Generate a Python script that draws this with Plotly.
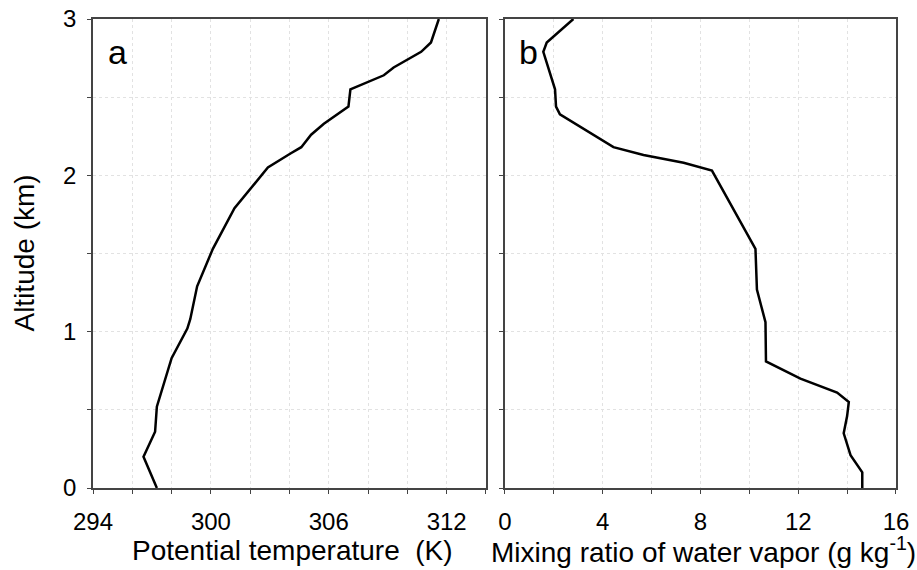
import plotly.graph_objects as go

# Panel a: potential temperature profile
theta_K = [311.6, 311.2, 310.7, 309.3, 308.8, 307.1, 307.0, 305.75, 305.1, 304.6, 304.05,
           302.9, 301.2, 300.1, 299.3, 298.95, 298.8, 298.0, 297.25, 297.16, 296.57, 297.25]
theta_alt = [3.0, 2.85, 2.79, 2.69, 2.64, 2.55, 2.44, 2.33, 2.26, 2.18, 2.14,
             2.05, 1.79, 1.53, 1.29, 1.08, 1.02, 0.83, 0.52, 0.36, 0.20, 0.0]

# Panel b: water vapor mixing ratio profile
q_gkg = [2.8, 1.71, 1.57, 2.05, 2.09, 2.25, 4.44, 5.67, 7.31, 8.47, 10.25,
         10.31, 10.66, 10.68, 12.09, 13.59, 14.07, 14.0, 13.86, 14.14, 14.62, 14.62]
q_alt = [3.0, 2.85, 2.79, 2.55, 2.44, 2.39, 2.18, 2.13, 2.08, 2.03, 1.53,
         1.27, 1.06, 0.81, 0.70, 0.61, 0.55, 0.46, 0.35, 0.21, 0.10, 0.0]

xa_ticks = [294, 300, 306, 312]
xb_ticks = [0, 4, 8, 12, 16]
y_ticks = [0, 1, 2, 3]

FONT = "Liberation Sans, Arial, sans-serif"
TITLE_FONT = dict(size=28, family=FONT, color="black")

fig = go.Figure()
fig.add_trace(go.Scatter(x=theta_K, y=theta_alt, mode="lines",
                         line=dict(color="black", width=2.5), xaxis="x", yaxis="y",
                         showlegend=False))
fig.add_trace(go.Scatter(x=q_gkg, y=q_alt, mode="lines",
                         line=dict(color="black", width=2.5), xaxis="x2", yaxis="y2",
                         showlegend=False))

common_axis = dict(showline=True, linecolor="#444", linewidth=1.5, mirror=True,
                   ticks="outside", ticklen=4, tickcolor="#444", automargin=False,
                   ticklabeloverflow="allow",
                   showgrid=True, gridcolor="#e2e2e2", griddash="dot", gridwidth=1,
                   zeroline=False, tickfont=dict(size=24, color="black", family=FONT))

yvals = [0, 0.5, 1, 1.5, 2, 2.5, 3]

fig.update_layout(
    xaxis=dict(domain=[0, 0.4894], range=[294, 314], tickmode="array",
               tickvals=list(range(294, 315, 2)),
               ticktext=[str(v) if v in xa_ticks else "" for v in range(294, 315, 2)],
               anchor="y", ticklabelstandoff=7,
               **common_axis),
    yaxis=dict(domain=[0, 1], range=[0, 3], tickmode="array",
               tickvals=yvals,
               ticktext=[str(int(v)) if v in y_ticks else "" for v in yvals],
               anchor="x", ticklabelstandoff=6,
               **common_axis),
    xaxis2=dict(domain=[0.513, 1], range=[0, 16], tickmode="array",
                tickvals=list(range(0, 17, 2)),
                ticktext=[str(v) if v in xb_ticks else "" for v in range(0, 17, 2)],
                anchor="y2", ticklabelstandoff=7,
                **common_axis),
    yaxis2=dict(domain=[0, 1], range=[0, 3], tickmode="array",
                tickvals=yvals, showticklabels=False,
                anchor="x2", **common_axis),
    width=917, height=570,
    margin=dict(l=93, r=21, t=19, b=82, pad=0),
    paper_bgcolor="white", plot_bgcolor="white",
    font=dict(family=FONT, color="black"),
    annotations=[
        dict(text="a", x=0.032, y=0.93, xref="x domain", yref="y domain",
             xanchor="left", yanchor="middle", showarrow=False,
             font=dict(size=34, family=FONT, color="black")),
        dict(text="b", x=0.032, y=0.93, xref="x2 domain", yref="y2 domain",
             xanchor="left", yanchor="middle", showarrow=False,
             font=dict(size=34, family=FONT, color="black")),
        dict(text="Potential temperature  (K)", x=0.2484, y=-0.1322,
             xref="paper", yref="paper", xanchor="center", yanchor="middle",
             showarrow=False, font=TITLE_FONT),
        dict(text="Mixing ratio of water vapor (g kg<sup>-1</sup>)", x=0.7603, y=-0.1322,
             xref="paper", yref="paper", xanchor="center", yanchor="middle",
             showarrow=False, font=TITLE_FONT),
        dict(text="Altitude (km)", x=-0.0859, y=0.5, textangle=-90,
             xref="paper", yref="paper", xanchor="center", yanchor="middle",
             showarrow=False, font=TITLE_FONT),
    ],
)

fig.write_html("out.html", config={"displayModeBar": False},
               post_script="document.body.style.margin='0';document.body.style.overflow='hidden';")
